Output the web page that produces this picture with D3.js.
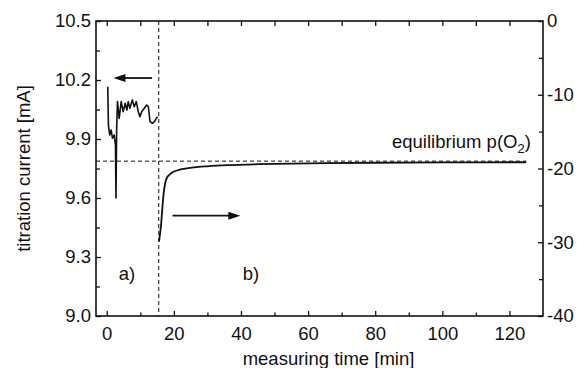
<!DOCTYPE html>
<html>
<head>
<meta charset="utf-8">
<script src="https://cdn.jsdelivr.net/npm/d3@7"></script>
<style>
  body { margin: 0; background: #fff; }
  text { font-family: "Liberation Sans", Arial, Helvetica, sans-serif; fill: #111; }
</style>
</head>
<body>
<script>
// a) titration current (left axis)
const timeA = [0.3, 0.5, 0.9, 1.3, 1.7, 2.2, 2.6, 2.75, 2.95, 3.2, 3.7, 4.3, 4.9, 5.5, 6.0, 6.4, 6.9, 7.6, 8.2, 8.8, 9.4, 9.9, 10.4, 11.2, 11.9, 12.4, 12.9, 13.6, 14.2, 14.8, 15.2];
const currentA = [10.166, 9.971, 9.92, 9.946, 9.904, 9.92, 9.87, 9.6, 9.95, 10.09, 10.005, 10.09, 10.039, 10.082, 10.047, 10.09, 10.056, 10.098, 10.064, 10.09, 10.039, 10.013, 10.039, 10.056, 10.073, 10.064, 9.988, 9.98, 9.988, 10.005, 10.013];

// b) right axis signal
const timeB = [15.6, 15.9, 16.2, 16.5, 16.9, 17.4, 18.0, 18.8, 19.9, 21.5, 23, 26, 30, 36, 45, 55, 65, 80, 100, 125];
const valueB = [-29.9, -28.8, -27.6, -25.8, -23.6, -22.0, -21.2, -20.8, -20.45, -20.2, -20.05, -19.85, -19.7, -19.55, -19.42, -19.33, -19.27, -19.22, -19.18, -19.15];

const xTicks = [0, 20, 40, 60, 80, 100, 120];
const xMinor = [10, 30, 50, 70, 90, 110];
const leftTicks = [9.0, 9.3, 9.6, 9.9, 10.2, 10.5];
const leftMinor = [9.15, 9.45, 9.75, 10.05, 10.35];
const rightTicks = [0, -10, -20, -30, -40];
const rightMinor = [-5, -15, -25, -35];

const switchTime = 15.5;
const equilibrium = -19;
const equilibriumEnd = 125;

const W = 577, H = 368;
const svg = d3.select('body').append('svg').attr('width', W).attr('height', H);

const pLeft = 96, pRight = 543, pTop = 21, pBottom = 316;
const x = d3.scaleLinear().domain([-3.2, 130]).range([pLeft, pRight]);
const yL = d3.scaleLinear().domain([9.0, 10.5]).range([pBottom, pTop]);
const yR = d3.scaleLinear().domain([-40, 0]).range([pBottom, pTop]);

const fs = '18.5px';

function styleAxis(g) {
    g.select('.domain').remove();
    g.selectAll('line').attr('stroke', '#111').attr('stroke-width', 1.3);
    g.selectAll('text').style('font-size', fs).attr('fill', '#111');
}

// bottom axis
svg.append('g').attr('transform', `translate(0,${pBottom})`)
    .call(d3.axisBottom(x).tickValues(xTicks).tickFormat(d => String(d)).tickSize(-5).tickPadding(11))
    .call(styleAxis);
svg.append('g').attr('transform', `translate(0,${pBottom})`)
    .call(d3.axisBottom(x).tickValues(xMinor).tickFormat('').tickSize(-3.5))
    .call(styleAxis);
// top axis
svg.append('g').attr('transform', `translate(0,${pTop})`)
    .call(d3.axisTop(x).tickValues(xTicks.concat(xMinor)).tickFormat('').tickSize(-5))
    .call(styleAxis);
// left axis
svg.append('g').attr('transform', `translate(${pLeft},0)`)
    .call(d3.axisLeft(yL).tickValues(leftTicks).tickFormat(d => d.toFixed(1)).tickSize(-5).tickPadding(5))
    .call(styleAxis);
svg.append('g').attr('transform', `translate(${pLeft},0)`)
    .call(d3.axisLeft(yL).tickValues(leftMinor).tickFormat('').tickSize(-4))
    .call(styleAxis);
// right axis (plain hyphen for negatives)
svg.append('g').attr('transform', `translate(${pRight},0)`)
    .call(d3.axisRight(yR).tickValues(rightTicks).tickFormat(d => String(d)).tickSize(-5).tickPadding(4))
    .call(styleAxis);
svg.append('g').attr('transform', `translate(${pRight},0)`)
    .call(d3.axisRight(yR).tickValues(rightMinor).tickFormat('').tickSize(-4))
    .call(styleAxis);

// frame
svg.append('rect')
    .attr('x', pLeft).attr('y', pTop)
    .attr('width', pRight - pLeft).attr('height', pBottom - pTop)
    .attr('fill', 'none').attr('stroke', '#111').attr('stroke-width', 1.6);

// dashed lines
svg.append('line')
    .attr('x1', x(switchTime)).attr('x2', x(switchTime))
    .attr('y1', pTop).attr('y2', pBottom)
    .attr('stroke', '#111').attr('stroke-width', 1).attr('stroke-dasharray', '4,3');
svg.append('line')
    .attr('x1', pLeft).attr('x2', x(equilibriumEnd))
    .attr('y1', yR(equilibrium)).attr('y2', yR(equilibrium))
    .attr('stroke', '#111').attr('stroke-width', 1).attr('stroke-dasharray', '4,3');

// curves
const lineA = d3.line().x(d => x(d[0])).y(d => yL(d[1]));
const lineB = d3.line().x(d => x(d[0])).y(d => yR(d[1])).curve(d3.curveMonotoneX);

svg.append('path')
    .datum(d3.zip(timeA, currentA))
    .attr('d', lineA)
    .attr('fill', 'none').attr('stroke', '#111').attr('stroke-width', 1.6)
    .attr('stroke-linejoin', 'round');
svg.append('path')
    .datum(d3.zip(timeB, valueB))
    .attr('d', lineB)
    .attr('fill', 'none').attr('stroke', '#111').attr('stroke-width', 1.8);

// arrows
function arrow(x1, y1, x2, y2) {
    const dir = Math.sign(x2 - x1);
    svg.append('line')
        .attr('x1', x1).attr('y1', y1).attr('x2', x2 - dir * 8).attr('y2', y2)
        .attr('stroke', '#111').attr('stroke-width', 1.8);
    svg.append('path')
        .attr('d', `M ${x2} ${y2} L ${x2 - dir * 12} ${y2 - 4} L ${x2 - dir * 12} ${y2 + 4} Z`)
        .attr('fill', '#111');
}
arrow(x(13.5), yL(10.21), x(2.0), yL(10.21));
arrow(x(19.6), yR(-26.4), x(39.8), yR(-26.4));

// labels
svg.append('text').attr('x', x(3.6)).attr('y', 280).style('font-size', fs).text('a)');
svg.append('text').attr('x', x(40.5)).attr('y', 280).style('font-size', fs).text('b)');

const eq = svg.append('text').attr('x', 392).attr('y', 148).style('font-size', fs);
eq.append('tspan').text('equilibrium p(O');
eq.append('tspan').attr('dy', 5).style('font-size', '13px').text('2');
eq.append('tspan').attr('dy', -5).text(')');

svg.append('text')
    .attr('x', (pLeft + pRight) / 2 + 9).attr('y', 365)
    .attr('text-anchor', 'middle').style('font-size', fs)
    .text('measuring time [min]');

svg.append('text')
    .attr('transform', `translate(29.5,${(pTop + pBottom) / 2}) rotate(-90)`)
    .attr('text-anchor', 'middle').style('font-size', fs)
    .text('titration current [mA]');
</script>
</body>
</html>
